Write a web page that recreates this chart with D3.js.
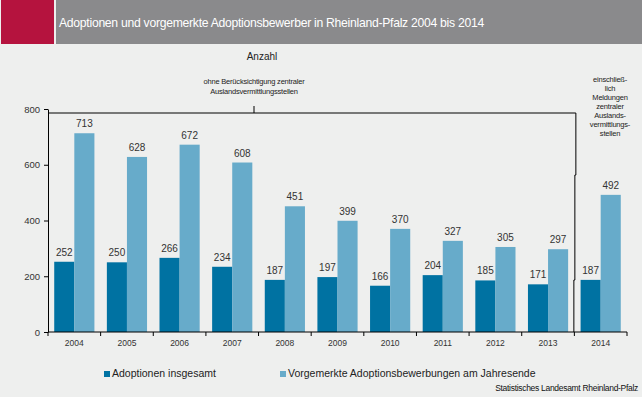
<!DOCTYPE html>
<html lang="de">
    <head>
        <meta charset="UTF-8" />
        <title>Adoptionen Rheinland-Pfalz</title>
        <style>
            body { margin: 0; background: #eeefee; }
            svg { display: block; font-family: "Liberation Sans", Arial, sans-serif; }
        </style>
    </head>
    <body>
        <div id="main"></div>
        <script src="https://cdn.jsdelivr.net/npm/d3@7"></script>
        <script>
            const years = ["2004", "2005", "2006", "2007", "2008", "2009", "2010", "2011", "2012", "2013", "2014"]
            const adoptionen = [252, 250, 266, 234, 187, 197, 166, 204, 185, 171, 187]
            const bewerbungen = [713, 628, 672, 608, 451, 399, 370, 327, 305, 297, 492]
            const seriesNames = ["Adoptionen insgesamt", "Vorgemerkte Adoptionsbewerbungen am Jahresende"]
            const yTicks = [0, 200, 400, 600, 800]

            const svgWidth = 642
            const svgHeight = 397
            const colors = ["#0072a2", "#67abca"]
            const textColor = "#333"

            main()
            function main() {
                const svg = d3.select("#main")
                    .append("svg")
                    .attr("width", svgWidth)
                    .attr("height", svgHeight)

                svg.append("rect")
                    .attr("width", svgWidth).attr("height", svgHeight)
                    .attr("fill", "#eeefee")

                // header bar
                svg.append("rect")
                    .attr("x", 1).attr("y", 0).attr("width", 53).attr("height", 44)
                    .attr("fill", "#b5133e")
                svg.append("rect")
                    .attr("x", 56).attr("y", 0).attr("width", svgWidth - 56).attr("height", 44)
                    .attr("fill", "#8a8a8c")
                svg.append("text")
                    .attr("x", 59).attr("y", 27)
                    .attr("fill", "#fff")
                    .attr("font-size", 12.2)
                    .attr("letter-spacing", -0.28)
                    .text("Adoptionen und vorgemerkte Adoptionsbewerber in Rheinland-Pfalz 2004 bis 2014")

                svg.append("text")
                    .attr("x", 262).attr("y", 60)
                    .attr("text-anchor", "middle")
                    .attr("font-size", 10)
                    .attr("fill", "#222")
                    .text("Anzahl")

                const x = d3.scaleBand().domain(years).range([48, 627])
                const x1 = d3.scaleBand().domain([0, 1]).range([0, x.bandwidth()]).paddingOuter(0.31)
                const y = d3.scaleLinear().domain([0, 800]).range([332, 109])

                // y axis
                const yAxis = svg.append("g")
                    .attr("transform", "translate(48,0)")
                    .call(d3.axisLeft(y).tickValues(yTicks).tickSize(4).tickSizeOuter(0).tickPadding(4))
                yAxis.select(".domain").attr("stroke", "#000")
                yAxis.selectAll(".tick line").attr("stroke", "#000")
                yAxis.selectAll("text")
                    .attr("font-size", 9.5)
                    .attr("font-family", "Liberation Sans, Arial, sans-serif")
                    .attr("fill", textColor)

                // bars
                const groups = svg.append("g")
                    .selectAll("g")
                    .data(years)
                    .join("g")
                    .attr("transform", (d) => `translate(${x(d)},0)`)

                const rows = (d, i) => [adoptionen[i], bewerbungen[i]]
                groups.selectAll("rect")
                    .data(rows)
                    .join("rect")
                    .attr("x", (d, j) => x1(j))
                    .attr("y", (d) => y(d))
                    .attr("width", x1.bandwidth())
                    .attr("height", (d) => y(0) - y(d))
                    .attr("fill", (d, j) => colors[j])

                groups.selectAll("text")
                    .data(rows)
                    .join("text")
                    .attr("x", (d, j) => x1(j) + x1.bandwidth() / 2)
                    .attr("y", (d) => y(d) - 6)
                    .attr("text-anchor", "middle")
                    .attr("font-size", 10)
                    .attr("fill", textColor)
                    .text((d) => d)

                // x axis
                const xAxisG = svg.append("g").attr("transform", `translate(0,${y(0)})`)
                xAxisG.append("line")
                    .attr("x1", 48).attr("x2", 627)
                    .attr("stroke", "#000")
                const bounds = years.map((d) => x(d)).concat([x.range()[1]])
                xAxisG.selectAll("line.tick")
                    .data(bounds)
                    .join("line")
                    .classed("tick", true)
                    .attr("x1", (d) => d).attr("x2", (d) => d)
                    .attr("y1", 0).attr("y2", 4)
                    .attr("stroke", "#000")
                xAxisG.selectAll("text")
                    .data(years)
                    .join("text")
                    .attr("x", (d) => x(d) + x.bandwidth() / 2)
                    .attr("y", 14)
                    .attr("text-anchor", "middle")
                    .attr("font-size", 8.5)
                    .attr("fill", textColor)
                    .text((d) => d)

                // bracket over 2004-2013
                const bx = x("2014")
                svg.append("path")
                    .attr("d", `M48.5,118 L48.5,113 L${bx + 1.5},113 L${bx + 1.5},175 L${bx + 0.5},175 L${bx + 0.5},280 L${bx - 0.5},280 L${bx - 0.5},332`)
                    .attr("fill", "none")
                    .attr("stroke", "#000")
                    .attr("stroke-width", 1)
                svg.append("line")
                    .attr("x1", 254).attr("x2", 254)
                    .attr("y1", 113).attr("y2", 106)
                    .attr("stroke", "#000")

                const noteLeft = ["ohne Berücksichtigung zentraler", "Auslandsvermittlungsstellen"]
                svg.append("g").selectAll("text")
                    .data(noteLeft)
                    .join("text")
                    .attr("x", 254)
                    .attr("y", (d, i) => 84 + i * 10)
                    .attr("text-anchor", "middle")
                    .attr("font-size", 7.5)
                    .attr("letter-spacing", -0.2)
                    .attr("fill", "#222")
                    .text((d) => d)

                const noteRight = ["einschließ-", "lich", "Meldungen", "zentraler", "Auslands-", "vermittlungs-", "stellen"]
                svg.append("g").selectAll("text")
                    .data(noteRight)
                    .join("text")
                    .attr("x", 610)
                    .attr("y", (d, i) => 82 + i * 9)
                    .attr("text-anchor", "middle")
                    .attr("font-size", 7.5)
                    .attr("letter-spacing", -0.2)
                    .attr("fill", "#222")
                    .text((d) => d)

                // legend
                const legendX = [104, 280]
                const legend = svg.append("g")
                    .selectAll("g")
                    .data(seriesNames)
                    .join("g")
                    .attr("transform", (d, i) => `translate(${legendX[i]},377)`)
                legend.append("rect")
                    .attr("x", 0).attr("y", -6)
                    .attr("width", 6).attr("height", 6)
                    .attr("fill", (d, i) => colors[i])
                legend.append("text")
                    .attr("x", 8).attr("y", 0)
                    .attr("font-size", 10.5)
                    .attr("fill", "#222")
                    .text((d) => d)

                svg.append("text")
                    .attr("x", 638).attr("y", 391)
                    .attr("text-anchor", "end")
                    .attr("font-size", 8.5)
                    .attr("letter-spacing", -0.3)
                    .attr("fill", "#111")
                    .text("Statistisches Landesamt Rheinland-Pfalz")
            }
        </script>
    </body>
</html>
